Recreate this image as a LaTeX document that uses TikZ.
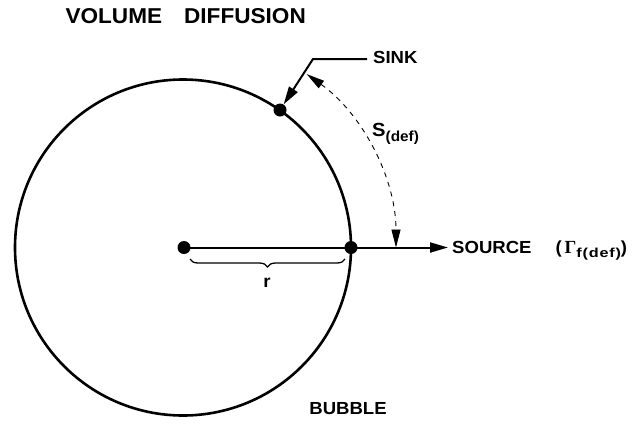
\documentclass[tikz,border=0pt]{standalone}
\usepackage{fontspec}
\newfontfamily\lblfont[FakeStretch=1.06]{Liberation Sans}
\newfontfamily\subfont[FakeStretch=1.25,LetterSpace=6]{Liberation Sans}
\newfontfamily\ttlfont[FakeStretch=1.05]{Liberation Sans}
\newfontfamily\greekfont{Liberation Serif}
\usetikzlibrary{arrows.meta,decorations.pathreplacing}
\begin{document}
\begin{tikzpicture}[x=1pt,y=1pt,
  lbl/.style={font=\lblfont\bfseries\fontsize{17.5}{18}\selectfont, inner sep=0pt},
  ttl/.style={font=\ttlfont\bfseries\fontsize{21.5}{22}\selectfont, inner sep=0pt},
  dotnode/.style={circle,fill=black,inner sep=0pt,minimum size=13pt},
  bigtip/.tip={Triangle[length=18pt,width=10pt]},
  leader/.style={line width=2pt},
  dasharc/.style={line width=0.9pt,dash pattern=on 5pt off 5pt}]
\useasboundingbox (0,0) rectangle (643,-424);
\coordinate (C) at (183,-247.5);
% bubble
\draw[line width=2.6pt] (C) circle[radius=168];
% title
\node[ttl, anchor=base east] (title) at (306,-23) {VOLUME\hspace{22pt}DIFFUSION};
% dots
\node[dotnode] (cdot) at (184,-247.5) {};
\node[dotnode] (rdot) at (351,-247.5) {};
\node[dotnode] (sdot) at (280,-110) {};
% labels
\node[lbl, anchor=base west] (sink) at (373,-63) {SINK};
\node[lbl, anchor=base west] (source) at (452,-253.5)
  {SOURCE\hspace{24pt}(\,{\greekfont\bfseries\fontsize{18.5}{19}\selectfont Γ}\raisebox{-4pt}{\subfont\bfseries\fontsize{13}{13}\selectfont f(def)})};
\node[lbl, anchor=base west] (sdef) at (372,-136.5)
  {{\fontsize{19}{20}\selectfont S}\raisebox{-5pt}{\fontsize{14.5}{15}\selectfont (def)}};
\node[lbl] (r) at (267,-283) {r};
\node[lbl] (bubble) at (348,-409) {BUBBLE};
% sink leader
\coordinate (sinkend) at (367,-59);
\coordinate (corner) at (313,-59);
\draw[leader,-bigtip] (sinkend) -- (corner) -- (sdot);
% radius line to source
\draw[leader,-bigtip] (cdot.center) -- ([xshift=-4pt]source.west |- cdot.center);
% dashed arc S(def)
\draw[dasharc,{Triangle[length=18pt,width=9pt]}-{Triangle[length=18pt,width=9pt]}]
  ([shift={(54.5:213)}]C) arc[start angle=54.5,end angle=0,radius=213];
% brace r
\draw[line width=1.3pt,decorate,decoration={brace,mirror,amplitude=8pt}]
  ([xshift=6pt,yshift=-11.5pt]cdot.center) -- ([xshift=-6pt,yshift=-11.5pt]rdot.center);
\end{tikzpicture}
\end{document}
